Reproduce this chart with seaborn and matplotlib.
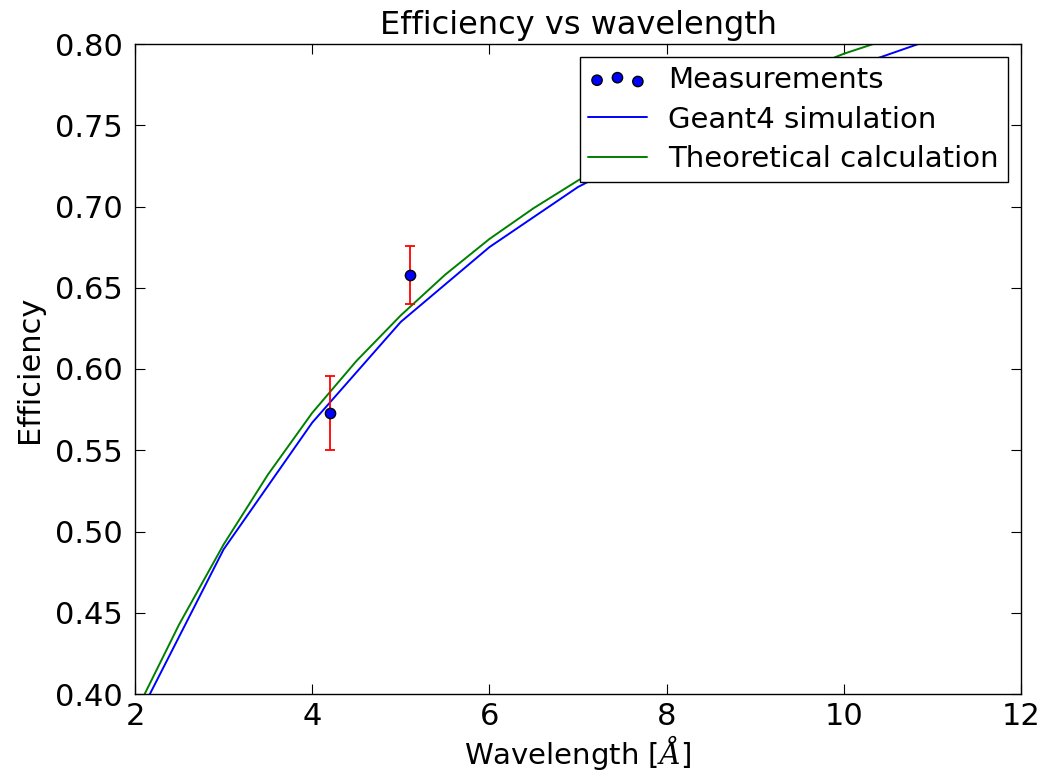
import matplotlib
matplotlib.use("Agg")
import matplotlib.pyplot as plt
import seaborn as sns
import pandas as pd

# Data
meas_wl = [4.2, 5.1]
meas_eff = [0.573, 0.658]
meas_err = [0.023, 0.018]

geant_wl = [2, 3, 4, 5, 6, 7, 8, 9, 10, 11, 12]
geant_eff = [0.382, 0.489, 0.567, 0.629, 0.675, 0.712, 0.740, 0.763, 0.784, 0.803, 0.820]

theo_wl = [2.0, 2.5, 3.0, 3.5, 4.0, 4.5, 5.0, 5.5, 6.0, 6.5, 7.0, 7.5, 8.0, 8.5, 9.0,
           9.5, 10.0, 10.5, 11.0, 11.5, 12.0]
theo_eff = [0.388, 0.443, 0.492, 0.535, 0.573, 0.605, 0.633, 0.658, 0.680, 0.699, 0.716,
            0.732, 0.746, 0.759, 0.772, 0.783, 0.794, 0.803, 0.812, 0.820, 0.827]

xticks = [2, 4, 6, 8, 10, 12]
yticks = [0.40, 0.45, 0.50, 0.55, 0.60, 0.65, 0.70, 0.75, 0.80]

sns.set_style("ticks")
plt.rcParams['font.family'] = ['DejaVu Sans']
plt.rcParams['mathtext.fontset'] = 'dejavuserif'
plt.rcParams['text.color'] = 'black'
plt.rcParams['axes.labelcolor'] = 'black'

fig = plt.figure(figsize=(10.43, 7.75), dpi=100)
ax = fig.add_axes([135/1043, 1-694/775, (1021-135)/1043, (694-44)/775])

df_g = pd.DataFrame({"wl": geant_wl, "eff": geant_eff})
df_t = pd.DataFrame({"wl": theo_wl, "eff": theo_eff})
df_m = pd.DataFrame({"wl": meas_wl, "eff": meas_eff})

sns.lineplot(data=df_g, x="wl", y="eff", color="#0000ff", lw=1.4, ax=ax,
             label="Geant4 simulation", sort=False)
sns.lineplot(data=df_t, x="wl", y="eff", color="#008000", lw=1.4, ax=ax,
             label="Theoretical calculation", sort=False)
ax.errorbar(meas_wl, meas_eff, yerr=meas_err, fmt="none", ecolor="#ff0000",
            elinewidth=1.3, capsize=3.5, capthick=1.3, zorder=3)
sns.scatterplot(data=df_m, x="wl", y="eff", color="#0000ff", edgecolor="black",
                linewidth=1, s=55, ax=ax, label="Measurements", zorder=4)

ax.set_xlim(2, 12)
ax.set_ylim(0.40, 0.80)
ax.set_xticks(xticks)
ax.set_xticklabels([str(v) for v in xticks])
ax.set_yticks(yticks)
ax.set_yticklabels([f"{v:.2f}" for v in yticks])
ax.tick_params(direction="in", top=True, right=True, length=7, width=0.8,
               labelsize=22, colors="black")
ax.tick_params(axis="y", pad=9)
ax.tick_params(axis="x", pad=6)
for s in ax.spines.values():
    s.set_visible(True)
    s.set_linewidth(1.0)
    s.set_color("black")

ax.set_xlabel(r"Wavelength [$\AA$]", fontsize=21, labelpad=1)
ax.set_ylabel("Efficiency", fontsize=22, labelpad=8)
ax.set_title("Efficiency vs wavelength", fontsize=23, pad=7)

handles, labels = ax.get_legend_handles_labels()
order = [labels.index("Measurements"), labels.index("Geant4 simulation"),
         labels.index("Theoretical calculation")]
leg = ax.legend([handles[i] for i in order], [labels[i] for i in order],
                loc="upper right", fontsize=21, frameon=True, fancybox=False,
                scatterpoints=3, scatteryoffsets=[0.375, 0.5, 0.3125],
                borderaxespad=0.45, handlelength=2.0, labelspacing=0.4,
                borderpad=0.3, handletextpad=0.75)
leg.get_frame().set_edgecolor("black")
leg.get_frame().set_linewidth(1.0)
leg.get_frame().set_alpha(1)

fig.savefig("out.png", dpi=100, facecolor="white")
